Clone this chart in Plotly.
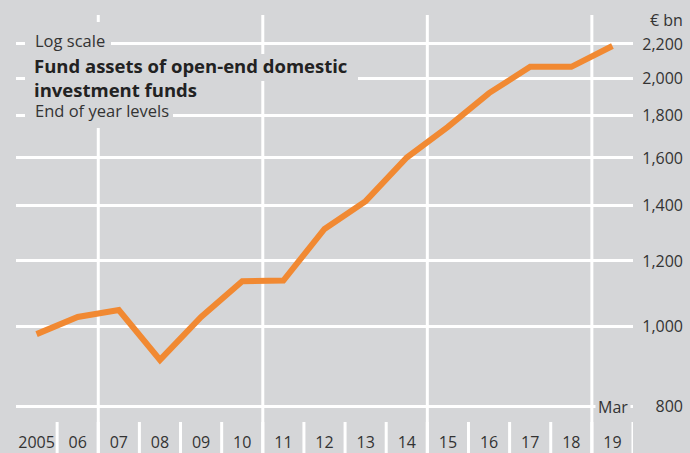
import plotly.graph_objects as go

# ---- data ----
years = ["2005", "06", "07", "08", "09", "10", "11", "12", "13", "14",
         "15", "16", "17", "18", "19"]
fund_assets = [978, 1026, 1046, 910, 1026, 1134, 1136, 1312, 1418, 1602,
               1745, 1918, 2064, 2064, 2188]
y_ticks = [800, 1000, 1200, 1400, 1600, 1800, 2000, 2200]
y_tick_text = ["800", "1,000", "1,200", "1,400", "1,600", "1,800", "2,000", "2,200"]
major_after = ["06", "10", "14", "18"]

# ---- layout geometry ----
W, H = 690, 453
ML, MR, MT, MB = 16, 4, 15, 31
PW, PH = W - ML - MR, H - MT - MB
BG = "rgb(213,214,216)"
TXT = "#333333"
ORANGE = "rgb(241,137,50)"
FONT = "Open Sans"


def px(x):
    return (x - ML) / PW


def py(y):
    return (H - MB - y) / PH


y_range = [2.88367, 3.37761]

fig = go.Figure()
fig.add_trace(go.Scatter(x=years, y=fund_assets, mode="lines",
                         line=dict(color=ORANGE, width=6),
                         hoverinfo="skip", showlegend=False))
fig.add_trace(go.Scatter(x=years, y=fund_assets, mode="lines", yaxis="y2",
                         line=dict(color="rgba(0,0,0,0)", width=0),
                         hoverinfo="skip", showlegend=False))

shapes = []
bottom = py(H + 2)
# separators between year labels
for i in range(len(years)):
    shapes.append(dict(type="line", xref="x", yref="paper",
                       x0=i + 0.5, x1=i + 0.5, y0=0, y1=bottom,
                       line=dict(color="white", width=3), layer="below"))
# major vertical lines
for lab in major_after:
    i = years.index(lab)
    shapes.append(dict(type="line", xref="x", yref="paper",
                       x0=i + 0.5, x1=i + 0.5, y0=1, y1=bottom,
                       line=dict(color="white", width=3), layer="below"))
# background patches behind the title text
for (x0, x1, y0, y1) in [(25, 111, 22, 54), (25, 358, 54, 81),
                         (25, 196, 81, 100), (25, 173, 100, 128)]:
    shapes.append(dict(type="rect", xref="paper", yref="paper",
                       x0=px(x0), x1=px(x1), y0=py(y1), y1=py(y0),
                       fillcolor=BG, line=dict(width=0), layer="above"))

annotations = [
    dict(text="Log scale", x=px(33), y=py(40), xanchor="left", yanchor="middle",
         font=dict(size=16.5, color=TXT, family=FONT)),
    dict(text="<b>Fund assets of open-end domestic<br>investment funds</b>",
         x=px(32), y=py(77.5), xanchor="left", yanchor="middle", align="left",
         font=dict(size=18.5, color="#222222", family=FONT)),
    dict(text="End of year levels", x=px(33), y=py(111), xanchor="left",
         yanchor="middle", font=dict(size=16.5, color=TXT, family=FONT)),
    dict(text="€ bn", x=px(685), y=py(20), xanchor="right", yanchor="middle",
         font=dict(size=16, color=TXT, family=FONT)),
    dict(text="Mar", x=px(613), y=py(407), xanchor="center", yanchor="middle",
         bgcolor=BG, borderpad=2,
         font=dict(size=16, color=TXT, family=FONT)),
]
for a in annotations:
    a.update(xref="paper", yref="paper", showarrow=False)

fig.update_layout(
    width=W, height=H,
    margin=dict(l=ML, r=MR, t=MT, b=MB, pad=0, autoexpand=False),
    paper_bgcolor=BG, plot_bgcolor=BG,
    font=dict(family=FONT, size=16, color=TXT),
    showlegend=False,
    shapes=shapes,
    annotations=annotations,
    xaxis=dict(type="category", range=[-0.5, len(years) - 0.5],
               domain=[0, px(633)], showgrid=False, zeroline=False,
               showline=False, ticks="outside", ticklen=6,
               tickcolor="rgba(0,0,0,0)", automargin=False,
               tickfont=dict(size=16, color=TXT, family=FONT)),
    yaxis=dict(type="log", range=y_range, tickvals=y_ticks,
               showticklabels=False, showgrid=True, gridcolor="white",
               gridwidth=3, zeroline=False, showline=False, side="right",
               automargin=False),
    yaxis2=dict(type="log", range=y_range, tickvals=y_ticks,
                ticktext=y_tick_text, overlaying="y", anchor="free",
                position=px(683), side="left", showgrid=False, zeroline=False,
                showline=False, ticks="", automargin=False,
                tickfont=dict(size=16, color=TXT, family=FONT)),
)

fig.write_html("out.html",
               config={"displayModeBar": False},
               post_script="document.body.style.margin='0';"
                           "document.body.style.padding='0';")
